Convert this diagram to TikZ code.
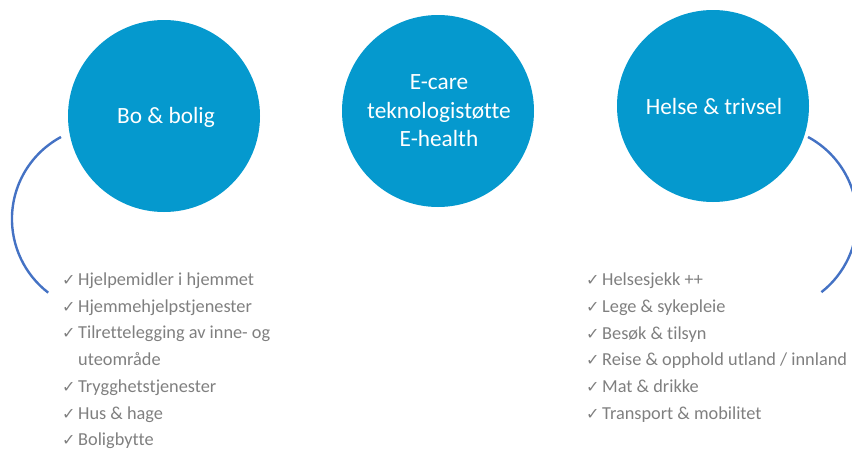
\documentclass[tikz,border=0pt]{standalone}
\usepackage{fontspec}
\setmainfont{Carlito}[Ligatures={NoCommon}]
\newfontfamily\symfont{DejaVu Sans}
\definecolor{circblue}{RGB}{5,153,206}
\definecolor{arcblue}{RGB}{68,114,196}
\definecolor{listgrey}{RGB}{127,127,127}
\newcommand{\ckm}{\makebox[16pt][l]{{\symfont\fontsize{16}{16}\selectfont ✓}}}
\begin{document}
\begin{tikzpicture}[x=1pt,y=-1pt,
  bigcirc/.style={circle,fill=circblue,draw=none,minimum size=192pt,inner sep=0pt},
  circtext/.style={anchor=base,text=white,font=\fontsize{23.3}{28.5}\selectfont,inner sep=0pt},
  listitem/.style={anchor=base west,text=listgrey,font=\fontsize{18.3}{20}\selectfont,inner sep=0pt},
  arcline/.style={draw=arcblue,line width=2.4pt}]
\useasboundingbox (0,0) rectangle (852,448);
\clip (0,0) rectangle (852,448);
% circles
\node[bigcirc] (bo) at (164,116) {};
\node[bigcirc] (ecare) at (438,111) {};
\node[bigcirc] (helse) at (713,106) {};
\node[circtext] (botxt) at (166,123) {Bo \& bolig};
\node[circtext] (et1) at (439,89) {E-care};
\node[circtext] (et2) at (439,118) {teknologistøtte};
\node[circtext] (et3) at (439,146) {E-health};
\node[circtext] (helsetxt) at (714,114) {Helse \& trivsel};
% arcs
\coordinate (la) at (61,137);
\coordinate (ra) at (808,137);
\draw[arcline] (la) arc[start angle=118.2,end angle=232.4,radius=93pt];
\draw[arcline] (ra) arc[start angle=61.8,end angle=-51.9,radius=93pt];
% left list
\node[listitem] (l1) at (62,285) {\ckm Hjelpemidler i hjemmet};
\node[listitem] (l2) at (62,312) {\ckm Hjemmehjelpstjenester};
\node[listitem] (l3) at (62,338) {\ckm Tilrettelegging av inne- og};
\node[listitem] (l4) at (78,365) {uteområde};
\node[listitem] (l5) at (62,392) {\ckm Trygghetstjenester};
\node[listitem] (l6) at (62,419) {\ckm Hus \& hage};
\node[listitem] (l7) at (62,445) {\ckm Boligbytte};
% right list
\node[listitem] (r1) at (586,285) {\ckm Helsesjekk ++};
\node[listitem] (r2) at (586,312) {\ckm Lege \& sykepleie};
\node[listitem] (r3) at (586,339) {\ckm Besøk \& tilsyn};
\node[listitem] (r4) at (586,365) {\ckm Reise \& opphold utland / innland};
\node[listitem] (r5) at (586,392) {\ckm Mat \& drikke};
\node[listitem] (r6) at (586,419) {\ckm Transport \& mobilitet};
\end{tikzpicture}
\end{document}
